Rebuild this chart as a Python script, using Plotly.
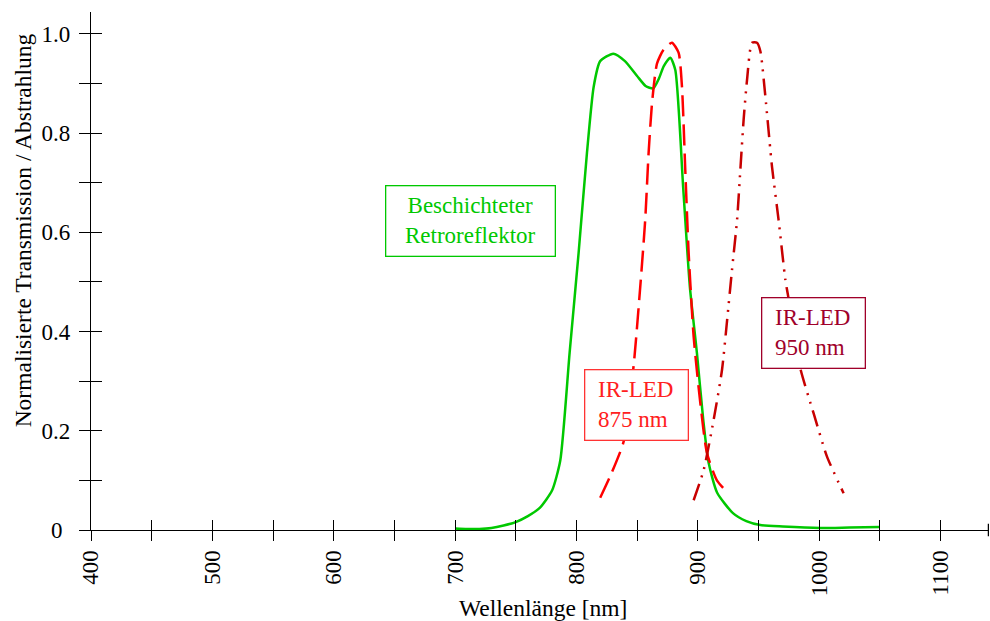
import plotly.graph_objects as go

# ---- data ----
retro_x = [700, 710, 720, 730, 740, 750, 760, 770, 780, 786.7, 794.4, 801.8, 808.7, 814.2, 819.6,
           830.4, 840, 850, 857, 863.3, 868, 872, 877.4, 881.5, 888, 893.5, 899.3, 904.6, 909,
           916, 929, 940, 951.6, 970, 1001, 1025, 1050]
retro_y = [0.003, 0.002, 0.002, 0.004, 0.009, 0.016, 0.028, 0.045, 0.08, 0.14, 0.357, 0.558, 0.76,
           0.893, 0.945, 0.96, 0.945, 0.915, 0.895, 0.89, 0.91, 0.935, 0.952, 0.927, 0.69, 0.49,
           0.357, 0.22, 0.135, 0.075, 0.034, 0.018, 0.01, 0.007, 0.004, 0.005, 0.006]

led875_x = [819.6, 829, 838.9, 847.1, 852.6, 856.7, 859.5, 862.3, 866.4, 871.8, 878.7, 884.2, 887,
            889.7, 892.5, 896.6, 902.1, 907.6, 915.8, 922.7]
led875_y = [0.065, 0.115, 0.178, 0.33, 0.49, 0.625, 0.76, 0.86, 0.94, 0.968, 0.982, 0.962, 0.893,
            0.726, 0.558, 0.39, 0.256, 0.155, 0.1, 0.08]

led950_x = [896.6, 904.9, 913.1, 920, 924.2, 928.2, 932.4, 935.1, 937.8, 940.6, 944.7, 948.8, 951.6,
            955.7, 961.2, 966.6, 972.2, 974.3, 984.5, 995.5, 1006.5, 1020.2]
led950_y = [0.06, 0.121, 0.222, 0.323, 0.423, 0.524, 0.625, 0.726, 0.827, 0.907, 0.982, 0.982, 0.965,
            0.874, 0.732, 0.625, 0.504, 0.474, 0.326, 0.235, 0.148, 0.074]

x_ticks = [400, 450, 500, 550, 600, 650, 700, 750, 800, 850, 900, 950, 1000, 1050, 1100]
x_ticktext = ["400", "", "500", "", "600", "", "700", "", "800", "", "900", "", "1000", "", "1100"]
y_ticks = [0, 0.1, 0.2, 0.3, 0.4, 0.5, 0.6, 0.7, 0.8, 0.9, 1.0]
y_ticktext = ["0\u2004", "", "0.2", "", "0.4", "", "0.6", "", "0.8", "", "1.0"]

x_range = [400, 1140]
y_range = [0, 1.044]

GREEN = "#00c800"
RED = "#ff0000"
DARKRED = "#c80000"
FONT = "Liberation Serif, Times New Roman, serif"

fig = go.Figure()
fig.add_trace(go.Scatter(x=retro_x, y=retro_y, mode="lines", line=dict(color=GREEN, width=2.5, shape="spline", smoothing=0.6),
                         showlegend=False, hoverinfo="skip"))
fig.add_trace(go.Scatter(x=led875_x, y=led875_y, mode="lines",
                         line=dict(color=RED, width=2.5, dash="21px,8px", shape="spline", smoothing=0.6),
                         showlegend=False, hoverinfo="skip"))
fig.add_trace(go.Scatter(x=led950_x, y=led950_y, mode="lines",
                         line=dict(color=DARKRED, width=2.5, dash="17px,7px,2px,7px,2px,7px", shape="spline", smoothing=0.6),
                         showlegend=False, hoverinfo="skip"))
# invisible trace for the overlay axes (inner half of crossing ticks)
fig.add_trace(go.Scatter(x=[x_range[0]], y=[y_range[0]], xaxis="x2", yaxis="y2", mode="markers",
                         marker=dict(opacity=0), showlegend=False, hoverinfo="skip"))

axis_common = dict(showgrid=False, zeroline=False, showline=True, linecolor="black", linewidth=1.3,
                   tickcolor="black", tickwidth=1.3, automargin=False)

fig.update_layout(
    width=990, height=621,
    margin=dict(l=91, r=1, t=12, b=91, autoexpand=False),
    paper_bgcolor="white", plot_bgcolor="white",
    font=dict(family=FONT, size=23, color="black"),
    xaxis=dict(range=x_range, tickmode="array", tickvals=x_ticks, ticktext=x_ticktext,
               ticks="outside", ticklen=10, tickangle=-90, **axis_common),
    yaxis=dict(range=y_range, tickmode="array", tickvals=y_ticks, ticktext=y_ticktext,
               ticks="outside", ticklen=11, ticklabelstandoff=4, **axis_common),
    xaxis2=dict(range=x_range, overlaying="x", anchor="y2", side="bottom", tickmode="array",
                tickvals=x_ticks, ticks="inside", ticklen=10, showticklabels=False, automargin=False,
                showgrid=False, zeroline=False, showline=False, tickcolor="black", tickwidth=1.3),
    yaxis2=dict(range=y_range, overlaying="y", anchor="x2", side="left", tickmode="array",
                tickvals=y_ticks[1:], ticks="inside", ticklen=11, showticklabels=False, automargin=False,
                showgrid=False, zeroline=False, showline=False, tickcolor="black", tickwidth=1.3),
)

# end cap of x axis
fig.add_shape(type="line", xref="x", yref="paper", x0=x_range[1], x1=x_range[1],
              y0=-0.012, y1=0.012, line=dict(color="black", width=2.5))

# axis titles
fig.add_annotation(text="Wellenlänge [nm]", xref="paper", yref="paper", x=0.503, y=-0.151,
                   showarrow=False, font=dict(size=23.5), xanchor="center", yanchor="middle")
fig.add_annotation(text="Normalisierte Transmission / Abstrahlung", xref="paper", yref="paper",
                   x=-0.076, y=0.578, textangle=-90, showarrow=False, font=dict(size=23.5),
                   xanchor="center", yanchor="middle")

# labels in boxes
fig.add_annotation(text="Beschichteter<br>Retroreflektor", x=713, y=0.622, xref="x", yref="y",
                   showarrow=False, font=dict(color=GREEN, size=23), bordercolor=GREEN, borderwidth=1.3,
                   borderpad=7, bgcolor="white", width=154, align="center")
fig.add_annotation(text="\u00a0IR-LED<br>\u00a0875 nm", x=849.5, y=0.252, xref="x", yref="y",
                   showarrow=False, font=dict(color="#ff2020", size=23), bordercolor="#ff3333", borderwidth=1.3,
                   borderpad=7, bgcolor="white", width=88, align="left")
fig.add_annotation(text="\u00a0IR-LED<br>\u00a0950 nm", x=995.5, y=0.397, xref="x", yref="y",
                   showarrow=False, font=dict(color="#a0002a", size=23), bordercolor="#a0002a", borderwidth=1.3,
                   borderpad=7, bgcolor="white", width=88, align="left")

fig.write_html("out.html", config={"displayModeBar": False},
               post_script="document.body.style.margin='0';document.body.style.padding='0';"
                           "document.body.style.overflow='hidden';document.documentElement.style.overflow='hidden';")
